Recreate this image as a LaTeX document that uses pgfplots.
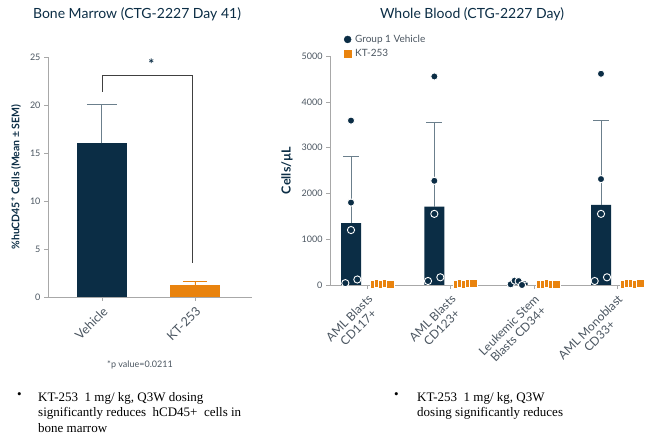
\documentclass[border=0pt]{standalone}
\usepackage{pgfplots}
\pgfplotsset{compat=1.18}
\usepackage{fontspec}
\setmainfont{Lato}
\newfontfamily\timesfont{Liberation Serif}
\definecolor{navy}{HTML}{0B2D45}
\definecolor{orng}{HTML}{E9830E}
\definecolor{axgray}{HTML}{A8A8A8}
\definecolor{errgray}{HTML}{6B7F8C}
\definecolor{txtgray}{HTML}{4A5560}
\begin{document}
\begin{tikzpicture}
\path[use as bounding box] (0pt,0pt) rectangle (661pt,443pt);
\node[font=\fontsize{14}{16}\selectfont, text=navy] at (137pt,429pt) {Bone Marrow (CTG-2227 Day 41)};
\node[font=\fontsize{14}{16}\selectfont, text=navy] at (472pt,429pt) {Whole Blood (CTG-2227 Day)};
% ---------- left axis
\begin{axis}[
 at={(48pt,146pt)}, anchor=south west, scale only axis, width=204pt, height=240pt,
 xmin=-0.58, xmax=1.613, ymin=0, ymax=25,
 axis lines=left, axis line style={axgray, -},
 ytick={0,5,...,25}, xtick={0,1}, xticklabels={Vehicle,KT-253},
 tick align=outside, major tick length=4pt, tick style={axgray},
 x tick label style={rotate=45, anchor=north east, font=\fontsize{12.5}{13}\selectfont, text=txtgray},
 y tick label style={font=\fontsize{9}{10}\selectfont, text=txtgray},
 /pgf/number format/assume math mode=true,
 ylabel={\textbf{\%huCD45\textsuperscript{+} Cells (Mean ± SEM)}},
 ylabel style={at={(axis description cs:-0.157,0.5)}, anchor=center, font=\fontsize{10.5}{12}\selectfont, text=navy},
 clip=false, bar width=50pt, bar shift=0pt,
]
\addplot[ybar, fill=navy, draw=none, error bars/.cd, y dir=plus, y explicit,
  error bar style={errgray, line width=1pt}, error mark options={errgray, line width=1pt, mark size=15pt, rotate=90}]
  coordinates {(0,16) +- (0,4)};
\addplot[ybar, fill=orng, draw=none, error bars/.cd, y dir=plus, y explicit,
  error bar style={orng, line width=0.8pt}, error mark options={orng, line width=0.8pt, mark size=12pt, rotate=90}]
  coordinates {(1,1.3) +- (0,0.3)};
\draw[black!75, line width=0.8pt] (axis cs:0,21.4) |- (axis cs:0.97,23.1) -- (axis cs:0.97,3.5);
\node[font=\fontsize{14}{15}\selectfont\bfseries, text=navy] at (axis cs:0.53,24.2) {*};
\end{axis}
\node[font=\fontsize{9}{10}\selectfont, text=txtgray] at (140pt,78pt) {*p value=0.0211};
% ---------- right axis
\begin{axis}[
 at={(330pt,158pt)}, anchor=south west, scale only axis, width=313pt, height=229pt,
 xmin=-0.444, xmax=3.312, ymin=0, ymax=5000,
 axis lines=left, axis line style={axgray, -},
 ytick={0,1000,...,5000}, xtick={0,1,2,3},
 xticklabels={{AML Blasts\\CD117+},{AML Blasts\\CD123+},{Leukemic Stem\\Blasts CD34+},{AML Monoblast\\CD33+}},
 tick align=outside, major tick length=4pt, tick style={axgray},
 x tick label style={rotate=45, anchor=north east, align=center, font=\fontsize{12}{13}\selectfont, text=txtgray},
 y tick label style={font=\fontsize{9}{10}\selectfont, text=txtgray},
 scaled y ticks=false, /pgf/number format/1000 sep={},
 /pgf/number format/assume math mode=true,
 ylabel={\textbf{Cells/µL}},
 ylabel style={at={(axis description cs:-0.137,0.5)}, anchor=center, font=\fontsize{12.5}{13}\selectfont, text=navy},
 clip=false, bar width=20pt, bar shift=0pt,
 legend style={draw=none, fill=none, font=\fontsize{10}{11}\selectfont, text=txtgray,
   at={(axis description cs:0.035,1.11)}, anchor=north west, row sep=1pt, column sep=2pt},
 legend cell align=left,
]
\addlegendimage{only marks, mark=*, mark size=3.5pt, mark options={fill=navy, draw=navy}}
\addlegendentry{Group 1 Vehicle}
\addlegendimage{only marks, mark=square*, mark size=3.5pt, mark options={fill=orng, draw=orng}}
\addlegendentry{KT-253}
\addplot[forget plot, ybar, fill=navy, draw=none, error bars/.cd, y dir=plus, y explicit,
  error bar style={errgray, line width=1pt}, error mark options={errgray, line width=1pt, mark size=8pt, rotate=90}]
  coordinates {(-0.192,1350) +- (0,1458) (0.808,1713) +- (0,1843) (1.808,50) +- (0,20) (2.808,1750) +- (0,1850)};
\addplot[forget plot, only marks, mark=*, mark size=3.6pt, mark options={fill=navy, draw=white, line width=0.9pt}]
  coordinates {(-0.192,3590) (-0.192,1800) (-0.192,1200) (-0.116,120) (-0.26,40)
   (0.808,4553) (0.808,2275) (0.808,1553) (0.88,168) (0.732,87)
   (1.724,15) (1.772,95) (1.82,85) (1.86,0)
   (2.808,4612) (2.808,2313) (2.808,1553) (2.88,168) (2.732,87)};
\addplot[forget plot, only marks, mark=square*, mark size=4pt, mark options={fill=orng, draw=white, line width=0.6pt}]
  coordinates {(0.084,10) (0.132,30) (0.18,20) (0.228,40) (0.276,15)
   (1.084,25) (1.132,35) (1.18,20) (1.228,40) (1.276,30)
   (2.084,10) (2.132,20) (2.18,30) (2.228,15) (2.276,25)
   (3.084,20) (3.132,40) (3.18,30) (3.228,25) (3.276,35)};
\end{axis}
% ---------- bullet texts
\node[anchor=north west, inner sep=0pt, font=\timesfont\fontsize{13}{15.5}\selectfont] at (17pt,51pt) {•};
\node[anchor=north west, inner sep=0pt, align=left, font=\timesfont\fontsize{13}{15.5}\selectfont] at (38pt,51pt)
  {KT-253\ \ 1 mg/ kg, Q3W dosing\\significantly reduces\ \ hCD45+\ \ cells in\\bone marrow};
\node[anchor=north west, inner sep=0pt, font=\timesfont\fontsize{13}{15.5}\selectfont] at (394pt,51pt) {•};
\node[anchor=north west, inner sep=0pt, align=left, font=\timesfont\fontsize{13}{15.5}\selectfont] at (417pt,51pt)
  {KT-253\ \ 1 mg/ kg, Q3W\\dosing significantly reduces};
\end{tikzpicture}
\end{document}
